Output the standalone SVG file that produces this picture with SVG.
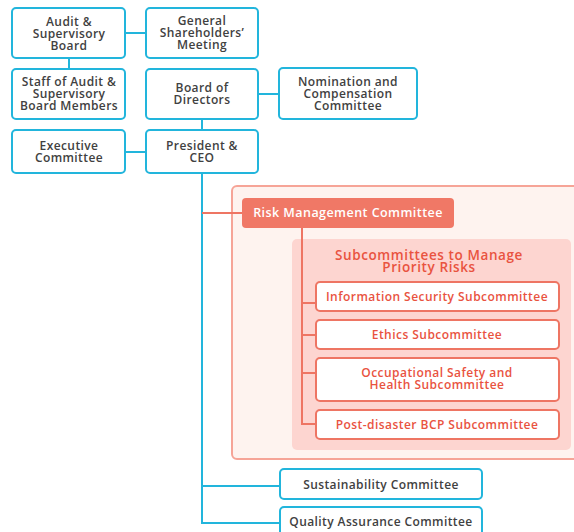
<svg xmlns="http://www.w3.org/2000/svg" width="574" height="532" viewBox="0 0 574 532">
<style>
.bb{fill:#fff;stroke:#22b5dc;stroke-width:2}
.bt{font-family:"Open Sans","Liberation Sans",sans-serif;font-size:12px;font-weight:600;fill:#414141;text-anchor:middle;letter-spacing:0.4px}
.cl{stroke:#22b5dc;stroke-width:2;fill:none}
.rl{stroke:#ee7563;stroke-width:2;fill:none}
.rb{fill:#fff;stroke:#ee7563;stroke-width:2}
.rt{font-family:"Open Sans","Liberation Sans",sans-serif;font-size:12px;font-weight:600;fill:#e9533f;text-anchor:middle;letter-spacing:0.45px}
</style>
<rect x="232" y="186" width="350" height="273" rx="5" fill="#fef3ef" stroke="#f6a497" stroke-width="2"/>
<rect x="292" y="239" width="279" height="211" rx="5" fill="#fdd5d0"/>
<g id="connectors">
<path class="cl" d="M125 33H146M69 58V69M258 94H279M202 119V130M125 152H146M202 173V523H279M202 486H279"/>
<path class="rl" d="M202 213H242"/>
<path class="rl" d="M302 228V424H316M302 303H316M302 335H316M302 373H316"/>
</g>
<g id="audit"><rect class="bb" x="12" y="8" width="113" height="50" rx="4"/><text class="bt" x="69" y="26">Audit &amp;<tspan x="69" dy="12">Supervisory</tspan><tspan x="69" dy="12">Board</tspan></text></g>
<g id="gsm"><rect class="bb" x="146" y="8" width="112" height="50" rx="4"/><text class="bt" x="202" y="25">General<tspan x="202" dy="12">Shareholders’</tspan><tspan x="202" dy="12">Meeting</tspan></text></g>
<g id="staff"><rect class="bb" x="12" y="69" width="113" height="50" rx="4"/><text class="bt" x="69" y="86">Staff of Audit &amp;<tspan x="69" dy="12">Supervisory</tspan><tspan x="69" dy="12">Board Members</tspan></text></g>
<g id="bod"><rect class="bb" x="146" y="69" width="112" height="50" rx="4"/><text class="bt" x="202" y="92">Board of<tspan x="202" dy="12">Directors</tspan></text></g>
<g id="nom"><rect class="bb" x="279" y="68" width="138" height="51" rx="4"/><text class="bt" x="348" y="86">Nomination and<tspan x="348" dy="12">Compensation</tspan><tspan x="348" dy="12">Committee</tspan></text></g>
<g id="exec"><rect class="bb" x="12" y="130" width="113" height="43" rx="4"/><text class="bt" x="69" y="150">Executive<tspan x="69" dy="12">Committee</tspan></text></g>
<g id="ceo"><rect class="bb" x="146" y="130" width="112" height="43" rx="4"/><text class="bt" x="202" y="150">President &amp;<tspan x="202" dy="12">CEO</tspan></text></g>
<g id="rmc"><rect x="242" y="198" width="212" height="30" rx="4" fill="#f07866"/><text class="bt" x="348" y="217" style="fill:#fff;font-size:12.5px;letter-spacing:0.45px">Risk Management Committee</text></g>
<g id="subtitle"><text class="rt" x="429" y="260" style="font-size:13.5px;letter-spacing:0.6px">Subcommittees to Manage<tspan x="429" dy="12">Priority Risks</tspan></text></g>
<g id="infosec"><rect class="rb" x="316" y="282" width="243" height="29" rx="4"/><text class="rt" x="437" y="301">Information Security Subcommittee</text></g>
<g id="ethics"><rect class="rb" x="316" y="320" width="243" height="29" rx="4"/><text class="rt" x="437" y="339">Ethics Subcommittee</text></g>
<g id="osh"><rect class="rb" x="316" y="358" width="243" height="43" rx="4"/><text class="rt" x="437" y="377">Occupational Safety and<tspan x="437" dy="12">Health Subcommittee</tspan></text></g>
<g id="bcp"><rect class="rb" x="316" y="410" width="243" height="29" rx="4"/><text class="rt" x="437" y="429">Post-disaster BCP Subcommittee</text></g>
<g id="sus"><rect class="bb" x="280" y="469" width="202" height="30" rx="4"/><text class="bt" x="381" y="489">Sustainability Committee</text></g>
<g id="qa"><rect class="bb" x="280" y="507" width="202" height="40" rx="4"/><text class="bt" x="381" y="526">Quality Assurance Committee</text></g>
</svg>
